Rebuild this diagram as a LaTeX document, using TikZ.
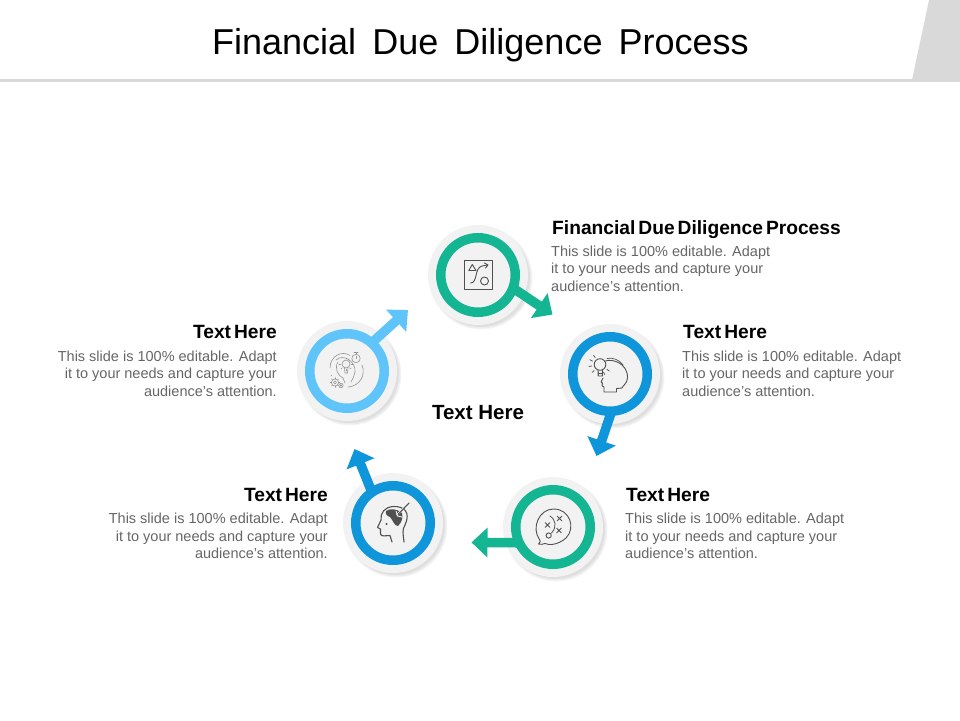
\documentclass[tikz,border=0pt]{standalone}
\usepackage{fontspec}
\setmainfont{Liberation Sans}
\usetikzlibrary{arrows.meta}
\definecolor{cgreen}{HTML}{13B593}
\definecolor{cblue}{HTML}{0F95DA}
\definecolor{clight}{HTML}{5EC4FA}
\definecolor{cdisc}{HTML}{F2F2F2}
\definecolor{cbar}{HTML}{D9D9D9}
\definecolor{cbody}{HTML}{666666}
\definecolor{cicon}{HTML}{505050}
\newcommand{\tightspace}{\spaceskip=3pt\relax}
\tikzset{
  discnode/.style={circle,fill=cdisc,minimum size=100pt,inner sep=0pt},
  ringnode/.style={circle,draw=#1,line width=9.5pt,minimum size=74.5pt,inner sep=0pt},
  flow/.style={draw=#1,fill=#1,line width=9.5pt,shorten <=-3pt,-{Triangle[length=16pt,width=29pt]}},
  headtext/.style={inner sep=0pt,font=\fontsize{19.2}{22}\selectfont\bfseries,text=black,execute at begin node=\tightspace},
  bodytext/.style={inner sep=0pt,font=\fontsize{14.5}{17.5}\selectfont,text=cbody},
  iconline/.style={draw=cicon,line width=0.9pt,line cap=round,line join=round},
  iconthin/.style={draw=gray!85,line width=0.6pt,line cap=round,line join=round},
}
\newcommand{\softshadow}[2]{%
  \fill[black,opacity=.035] (#1+3,#2+3) circle (51.5);
  \fill[black,opacity=.04] (#1+3,#2+3) circle (50.5);
  \fill[black,opacity=.05] (#1+2.5,#2+2.5) circle (49.5);
}
\begin{document}
\begin{tikzpicture}[x=1pt,y=-1pt]
\useasboundingbox (0,0) rectangle (960,720);
\fill[white] (0,0) rectangle (960,720);
% header
\fill[cbar] (0,79) rectangle (960,82);
\fill[cbar] (929,0) -- (960,0) -- (960,80) -- (912,80) -- cycle;
\node[inner sep=0pt,font=\fontsize{36}{40}\selectfont,anchor=base] (title) at (480.5,54)
  {Financial\hspace{0.17em} Due\hspace{0.17em} Diligence\hspace{0.17em} Process};

% discs
\softshadow{478}{275}\softshadow{610}{374}\softshadow{553}{527}\softshadow{393}{523}\softshadow{347}{371}
\node[discnode] (d1) at (478,275) {};
\node[discnode] (d2) at (610,374) {};
\node[discnode] (d3) at (553,527) {};
\node[discnode] (d4) at (393,523) {};
\node[discnode] (d5) at (347,371) {};
% rings
\node[ringnode=cgreen] (r1) at (d1) {};
\node[ringnode=cblue]  (r2) at (d2) {};
\node[ringnode=cgreen] (r3) at (d3) {};
\node[ringnode=cblue]  (r4) at (d4) {};
\node[ringnode=clight] (r5) at (d5) {};
% arrow tips
\coordinate (t1) at (552.5,314.5);
\coordinate (t2) at (596.5,456);
\coordinate (t3) at (471.5,542.4);
\coordinate (t4) at (354.5,449);
\coordinate (t5) at (408,310);
% connectors
\draw[flow=cgreen] (r1.-22) -- (t1);
\draw[flow=cblue]  (r2.-90) -- (t2);
\draw[flow=cgreen] (r3.-158.5) -- (t3);
\draw[flow=cblue]  (r4.123) -- (t4);
\draw[flow=clight] (r5.48) -- (t5);

% icon 1
\draw[iconline] (464.5,260.5) rectangle (492.5,289);
\draw[iconline] (472.3,264.5) -- (476,270.5) -- (468.8,270.5) -- cycle;
\draw[iconline] (484.5,281) circle (4);
\draw[iconline] (470.5,283) .. controls (478,283) and (474,268) .. (482,266) -- (487.5,265);
\draw[iconline] (484.5,263) -- (488,265) -- (485.5,268);

% icon 2
\draw[iconline] (600,364.5) circle (5.8);
\draw[iconline] (598,370) -- (598.3,376) -- (602.3,376) -- (602.5,370);
\draw[iconline] (598.3,373) -- (602.3,373);
\foreach \a in {100,135,170,205,235,65,35}
  \draw[iconline,line width=.7pt] (600,364.5) ++(\a:8.3) -- ++(\a:3);
\draw[iconline] (605.5,361) .. controls (612,358.5) and (628,363) .. (627.5,378)
  .. controls (627,384) and (623,385) .. (622,388) -- (616.5,388.5) -- (616.5,392)
  -- (604,392) -- (604,387) .. controls (601,387) and (602,385) .. (602.5,383)
  .. controls (600,383) and (602,380) .. (603,378);
\draw[iconline,line width=.7pt] (607,358.5) .. controls (612,357) and (620,360) .. (623,365);

% icon 3
\draw[iconline] (538.5,544) .. controls (541,542) and (540.5,541) .. (539.5,539.5)
  .. controls (531,528) and (539,509) .. (553.5,509)
  .. controls (570,509) and (576,528) .. (566,538)
  .. controls (558,545) and (549,545.5) .. (545,543.5) .. controls (543,544.5) and (540,544.5) .. (538.5,544) -- cycle;
\foreach \x/\y in {547.5/525,559.5/518.5,559/530.5}
  \draw[iconline,line width=.8pt] (\x-2.3,\y-2.3) -- (\x+2.3,\y+2.3) (\x-2.3,\y+2.3) -- (\x+2.3,\y-2.3);
\draw[iconline] (548.7,535.5) circle (2.6);
\draw[iconline,line width=.8pt] (550,516) .. controls (556,520) and (557,527) .. (551.5,533);

% icon 4
\draw[iconline,line width=1.1pt] (404,542) .. controls (403,533) and (402,530) .. (405,525)
  .. controls (411,512) and (404,506) .. (393,506.5)
  .. controls (385,507) and (380,513) .. (381,520)
  -- (377.5,527.5) -- (380.5,529) -- (380.5,534)
  .. controls (381,537) and (386,535.5) .. (390,535.5) -- (392,542);
\fill[cicon] (386,511) .. controls (390,508) and (398,509) .. (402,513)
  .. controls (403,518) and (402,522) .. (398,526)
  .. controls (394,526) and (393,520) .. (390,517) .. controls (387,516) and (385,514) .. (386,511) -- cycle;
\draw[cdisc,line width=2pt] (409,503) -- (397,515);
\draw[iconline,line width=1.1pt] (409,503) -- (398,514.5);
\draw[iconline,draw=cdisc] (396,511) -- (397.5,516) -- (402,517);
\fill[cicon] (386.5,524) circle (1.2);

% icon 5
\begin{scope}[iconthin]
\draw (356,358.5) circle (4.2);
\draw (356,352.5) -- (356,354.3) (354,352.5) -- (358,352.5) (356,356.5) -- (356,358.5);
\draw (350,355.5) .. controls (342,350) and (330,356) .. (330,368);
\draw (362,365) .. controls (366,375) and (360,386) .. (348,387);
\draw (331,375) -- (332,376);
\draw (336,360) .. controls (344,353) and (356,362) .. (355,372)
  .. controls (354,376) and (353,379) .. (351,382);
\draw (338,362) .. controls (334,368) and (338,376) .. (343,378) -- (345,383);
\draw (346,364) circle (4) (344.5,368) -- (345,373) -- (347.5,373) -- (348,368);
\foreach \a in {90,135,45,0,180} \draw (346,364) ++(\a:5.5) -- ++(\a:1.5);
\draw (335,382.5) circle (3.6) (335,382.5) circle (1.5);
\foreach \a in {0,45,...,315} \draw (335,382.5) ++(\a:3.6) -- ++(\a:1.2);
\draw (341,385.5) circle (2.2) (341,385.5) circle (.8);
\end{scope}

% center
\node[inner sep=0pt,font=\fontsize{20.5}{22}\selectfont\bfseries] (center) at (478,413) {Text Here};

% texts
\node[headtext,anchor=base west] (h1) at (552,234.5) {Financial Due Diligence Process};
\node[bodytext,anchor=north west,align=left] (b1) at (551,245.5)
  {This slide is 100\% editable. Adapt\\it to your needs and capture your\\audience's attention.};
\node[headtext,anchor=base west] (h2) at (683,338.5) {Text Here};
\node[bodytext,anchor=north west,align=left] (b2) at (682,350.5)
  {This slide is 100\% editable. Adapt\\it to your needs and capture your\\audience's attention.};
\node[headtext,anchor=base west] (h3) at (626,501.5) {Text Here};
\node[bodytext,anchor=north west,align=left] (b3) at (625,513)
  {This slide is 100\% editable. Adapt\\it to your needs and capture your\\audience's attention.};
\node[headtext,anchor=base east] (h4) at (328,501.5) {Text Here};
\node[bodytext,anchor=north east,align=right] (b4) at (328,513)
  {This slide is 100\% editable. Adapt\\it to your needs and capture your\\audience's attention.};
\node[headtext,anchor=base east] (h5) at (277,338.5) {Text Here};
\node[bodytext,anchor=north east,align=right] (b5) at (277,350.5)
  {This slide is 100\% editable. Adapt\\it to your needs and capture your\\audience's attention.};
\end{tikzpicture}
\end{document}
